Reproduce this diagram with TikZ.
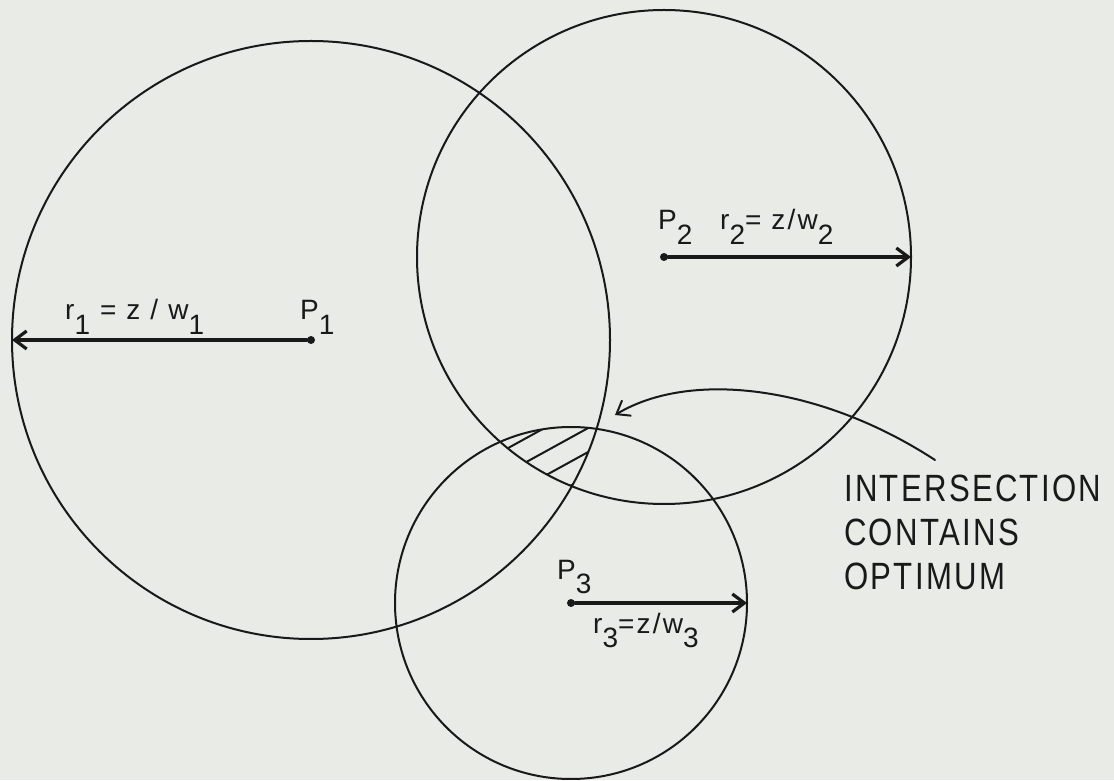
\documentclass[tikz,border=0pt]{standalone}
\usepackage{fontspec}
\setmainfont{Liberation Sans}
\newfontfamily\labelfont[LetterSpace=8]{Liberation Sans}
\newfontfamily\notefont[FakeStretch=0.82,LetterSpace=6]{Liberation Sans}
\usetikzlibrary{arrows.meta,calc}
\newcommand{\lowsub}[1]{\raisebox{-0.52em}{#1}}
\definecolor{paper}{RGB}{233,235,231}
\definecolor{ink}{RGB}{25,25,25}

\begin{document}
\begin{tikzpicture}[x=1pt, y=1pt, line cap=round, line join=round,
  >={Straight Barb[length=12pt,width=18pt]},
  ring/.style={draw=ink, line width=2pt, circle, inner sep=0pt, outer sep=0pt},
  centre/.style={fill=ink, circle, inner sep=0pt, minimum size=8pt},
  radius arrow/.style={->, draw=ink, line width=3.2pt},
  callout/.style={->, draw=ink, line width=2pt},
  hatch/.style={draw=ink, line width=2pt},
  lbl/.style={inner sep=0pt, anchor=base west, text=ink, font=\labelfont\fontsize{28}{32}\selectfont},
  note/.style={inner sep=0pt, anchor=north west, align=left, text=ink, font=\notefont\fontsize{38}{44}\selectfont}]
  \useasboundingbox[fill=paper] (0,0) rectangle (1114,780);

  % the three circles
  \node[ring, minimum size=598pt] (C1) at (311,440) {};
  \node[ring, minimum size=494pt] (C2) at (664,523) {};
  \node[ring, minimum size=352pt] (C3) at (571,177) {};

  % hatched common part
  \begin{scope}
    \clip (C1.center) circle (299pt);
    \clip (C2.center) circle (247pt);
    \clip (C3.center) circle (176pt);
    \foreach \k in {-2,...,1}
      \draw[hatch] (450,{276+24*\k}) -- (650,{386+24*\k});
  \end{scope}

  % centres and radii
  \node[centre] (P1) at (311,440) {};
  \node[centre] (P2) at (664,523) {};
  \node[centre] (P3) at (571,177) {};
  \draw[radius arrow] (P1) -- (C1.west);
  \draw[radius arrow] (P2) -- (C2.east);
  \draw[radius arrow] (P3) -- (C3.east);

  \node[lbl] (p1name) at (300,460) {P\lowsub{1}};
  \node[lbl] (r1name) at (65,460) {r\lowsub{1} = z / w\lowsub{1}};
  \node[lbl] (p2name) at (658,550) {P\lowsub{2}};
  \node[lbl] (r2name) at (720,550) {r\lowsub{2}= z/w\lowsub{2}};
  \node[lbl] (p3name) at (557,201) {P\lowsub{3}};
  \node[lbl] (r3name) at (593,147) {r\lowsub{3}=z/w\lowsub{3}};

  % note with its arrow
  \node[note] (note) at (844,305) {INTERSECTION\\CONTAINS\\OPTIMUM};
  \coordinate (aim) at (615,365);
  \draw[callout] ($(note.north west)+(91,15)$) .. controls +(-115,75) and +(75,45) .. (aim);
\end{tikzpicture}
\end{document}
